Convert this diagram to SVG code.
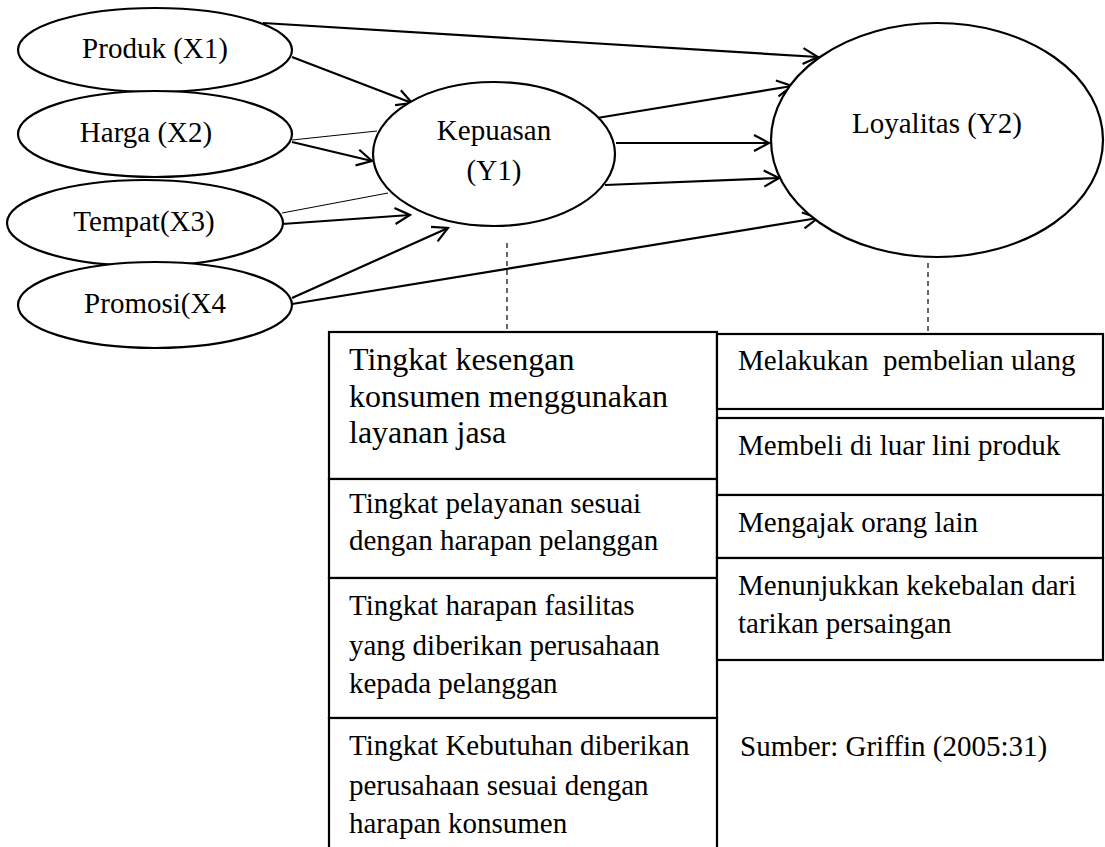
<svg xmlns="http://www.w3.org/2000/svg" width="1105" height="847" viewBox="0 0 1105 847">
<style>
text{font-family:"Liberation Serif","Times New Roman",serif;fill:#000;font-size:29px}
.big{font-size:32px}
.node{fill:#fff;stroke:#000;stroke-width:2.2}
.box{fill:#fff;stroke:#000;stroke-width:2.2}
.arr{stroke:#000;stroke-width:2.2;fill:none;marker-end:url(#ah)}
.thin{stroke:#000;stroke-width:1;fill:none}
.dash{stroke:#000;stroke-width:1.2;stroke-dasharray:5,4;fill:none}
</style>
<defs>
<marker id="ah" markerUnits="userSpaceOnUse" markerWidth="22" markerHeight="22" viewBox="0 0 22 22" refX="19" refY="11" orient="auto">
<path d="M4,3 L19,11 L4,19" fill="none" stroke="#000" stroke-width="2.2"/>
</marker>
</defs>
<rect width="1105" height="847" fill="#fff"/>
<g id="connectors">
<line class="arr" x1="263" y1="23" x2="818" y2="57"/>
<line class="arr" x1="292" y1="57" x2="412" y2="103"/>
<line class="thin" x1="292" y1="140" x2="377" y2="131"/>
<line class="arr" x1="292" y1="142" x2="372" y2="161"/>
<line class="thin" x1="282" y1="213" x2="388" y2="193"/>
<line class="arr" x1="282" y1="224" x2="410" y2="215"/>
<line class="arr" x1="292" y1="298" x2="448" y2="228"/>
<line class="arr" x1="292" y1="304" x2="818" y2="218"/>
<line class="arr" x1="597" y1="118" x2="792" y2="86"/>
<line class="arr" x1="616" y1="143" x2="769" y2="143"/>
<line class="arr" x1="605" y1="185" x2="779" y2="178"/>
<line class="dash" x1="507" y1="243" x2="507" y2="331"/>
<line class="dash" x1="928" y1="263" x2="928" y2="333"/>
</g>
<g id="produk">
<ellipse class="node" cx="155" cy="50" rx="137" ry="42"/>
<text x="155" y="58" text-anchor="middle">Produk (X1)</text>
</g>
<g id="harga">
<ellipse class="node" cx="155" cy="134" rx="137" ry="43"/>
<text x="146" y="142" text-anchor="middle">Harga (X2)</text>
</g>
<g id="tempat">
<ellipse class="node" cx="145" cy="223" rx="138" ry="43"/>
<text x="144" y="231" text-anchor="middle">Tempat(X3)</text>
</g>
<g id="promosi">
<ellipse class="node" cx="155" cy="305" rx="137" ry="43"/>
<text x="155" y="313" text-anchor="middle">Promosi(X4</text>
</g>
<g id="kepuasan">
<ellipse class="node" cx="494" cy="154" rx="121" ry="72"/>
<text x="494" y="140" text-anchor="middle">Kepuasan</text>
<text x="494" y="180" text-anchor="middle">(Y1)</text>
</g>
<g id="loyalitas">
<ellipse class="node" cx="937" cy="140" rx="166" ry="117"/>
<text x="937" y="133" text-anchor="middle">Loyalitas (Y2)</text>
</g>
<g id="kepuasan-indicators">
<rect class="box" x="329" y="332" width="388" height="147"/>
<text class="big" x="349" y="370">Tingkat kesengan</text>
<text class="big" x="349" y="407">konsumen menggunakan</text>
<text class="big" x="349" y="443">layanan jasa</text>
<rect class="box" x="329" y="479" width="388" height="99"/>
<text x="349" y="513">Tingkat pelayanan sesuai</text>
<text x="349" y="550">dengan harapan pelanggan</text>
<rect class="box" x="329" y="578" width="388" height="140"/>
<text x="349" y="615">Tingkat harapan fasilitas</text>
<text x="349" y="655">yang diberikan perusahaan</text>
<text x="349" y="693">kepada pelanggan</text>
<rect class="box" x="329" y="718" width="388" height="150"/>
<text x="349" y="755">Tingkat Kebutuhan diberikan</text>
<text x="349" y="795">perusahaan sesuai dengan</text>
<text x="349" y="833">harapan konsumen</text>
</g>
<g id="loyalitas-indicators">
<rect class="box" x="717" y="334" width="386" height="75"/>
<text x="738" y="370" xml:space="preserve">Melakukan  pembelian ulang</text>
<rect class="box" x="717" y="418" width="386" height="77"/>
<text x="738" y="455">Membeli di luar lini produk</text>
<rect class="box" x="717" y="495" width="386" height="63"/>
<text x="738" y="532">Mengajak orang lain</text>
<rect class="box" x="717" y="558" width="386" height="102"/>
<text x="738" y="595">Menunjukkan kekebalan dari</text>
<text x="738" y="633">tarikan persaingan</text>
</g>
<g id="source">
<text x="740" y="756">Sumber: Griffin (2005:31)</text>
</g>
</svg>
